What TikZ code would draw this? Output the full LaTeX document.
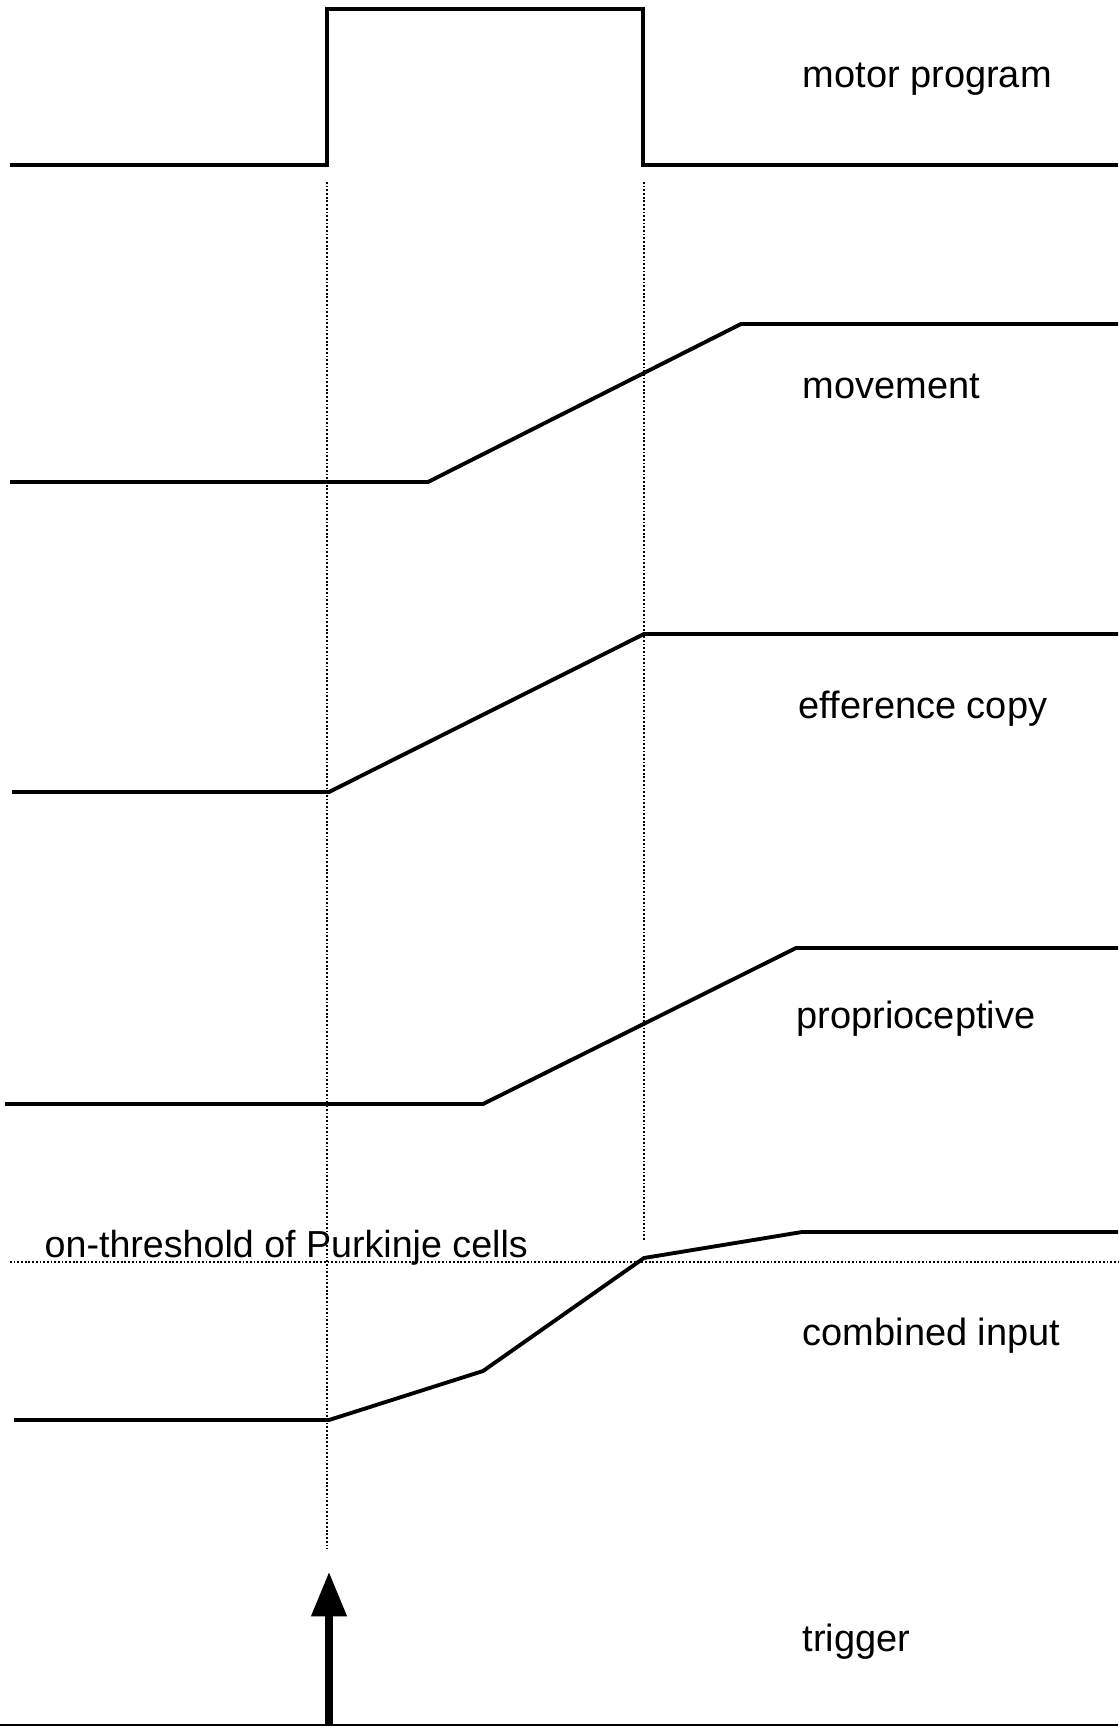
\documentclass[tikz,border=0pt]{standalone}
\usepackage{fontspec}
\setmainfont{Liberation Sans}
\usetikzlibrary{arrows.meta}

\begin{document}
\begin{tikzpicture}[x=0.01cm,y=-0.01cm,
	signal/.style={line width=1.1pt},
	guide/.style={line width=0.8pt,dash pattern=on 0.5pt off 0.55pt},
	trace/.style={anchor=base west,inner sep=0pt,font=\fontsize{10.8}{13}\selectfont}]
	\useasboundingbox (0,0) rectangle (1118,1728);
	%GUIDES
	\draw[guide] (327,182) coordinate(onset) -- (327,1549) coordinate(onsetend);
	\draw[guide] (644,182) coordinate(offset) -- (644,1240) coordinate(offsetend);
	\draw[guide] (10,1262) coordinate(thr) -- (1118,1262) coordinate(thrend);
	\node[trace,font=\fontsize{10.7}{13}\selectfont] (thrlabel) at (44,1257) {on-threshold of Purkinje cells};
	%MOTOR PROGRAM
	\draw[signal] (10,165) -- (327,165) -- (327,9) -- (643,9) -- (643,165) -- (1118,165);
	\node[trace] (motor) at (802,88) {motor program};
	%MOVEMENT
	\draw[signal] (10,482) -- (428,482) -- (741,324) -- (1118,324);
	\node[trace] (move) at (802,399) {movement};
	%EFFERENCE COPY
	\draw[signal] (12,792) -- (329,792) -- (644,634) -- (1118,634);
	\node[trace] (effcopy) at (798,718) {efference copy};
	%PROPRIOCEPTIVE
	\draw[signal] (5,1104) -- (483,1104) -- (796,948) -- (1118,948);
	\node[trace] (propr) at (796,1028) {proprioceptive};
	%COMBINED INPUT
	\draw[signal] (14,1420) -- (329,1420) -- (483,1371) -- (644,1258) -- (802,1232) -- (1118,1232);
	\node[trace] (comb) at (802,1345) {combined input};
	%TRIGGER
	\draw[line width=0.8pt] (0,1725) -- (1118,1725);
	\draw[line width=2pt,-{Triangle[width=9.7pt,length=12.6pt]}] (329,1725) -- (329,1572) coordinate(tip);
	\node[trace] (trig) at (802,1651) {trigger};
\end{tikzpicture}
\end{document}
